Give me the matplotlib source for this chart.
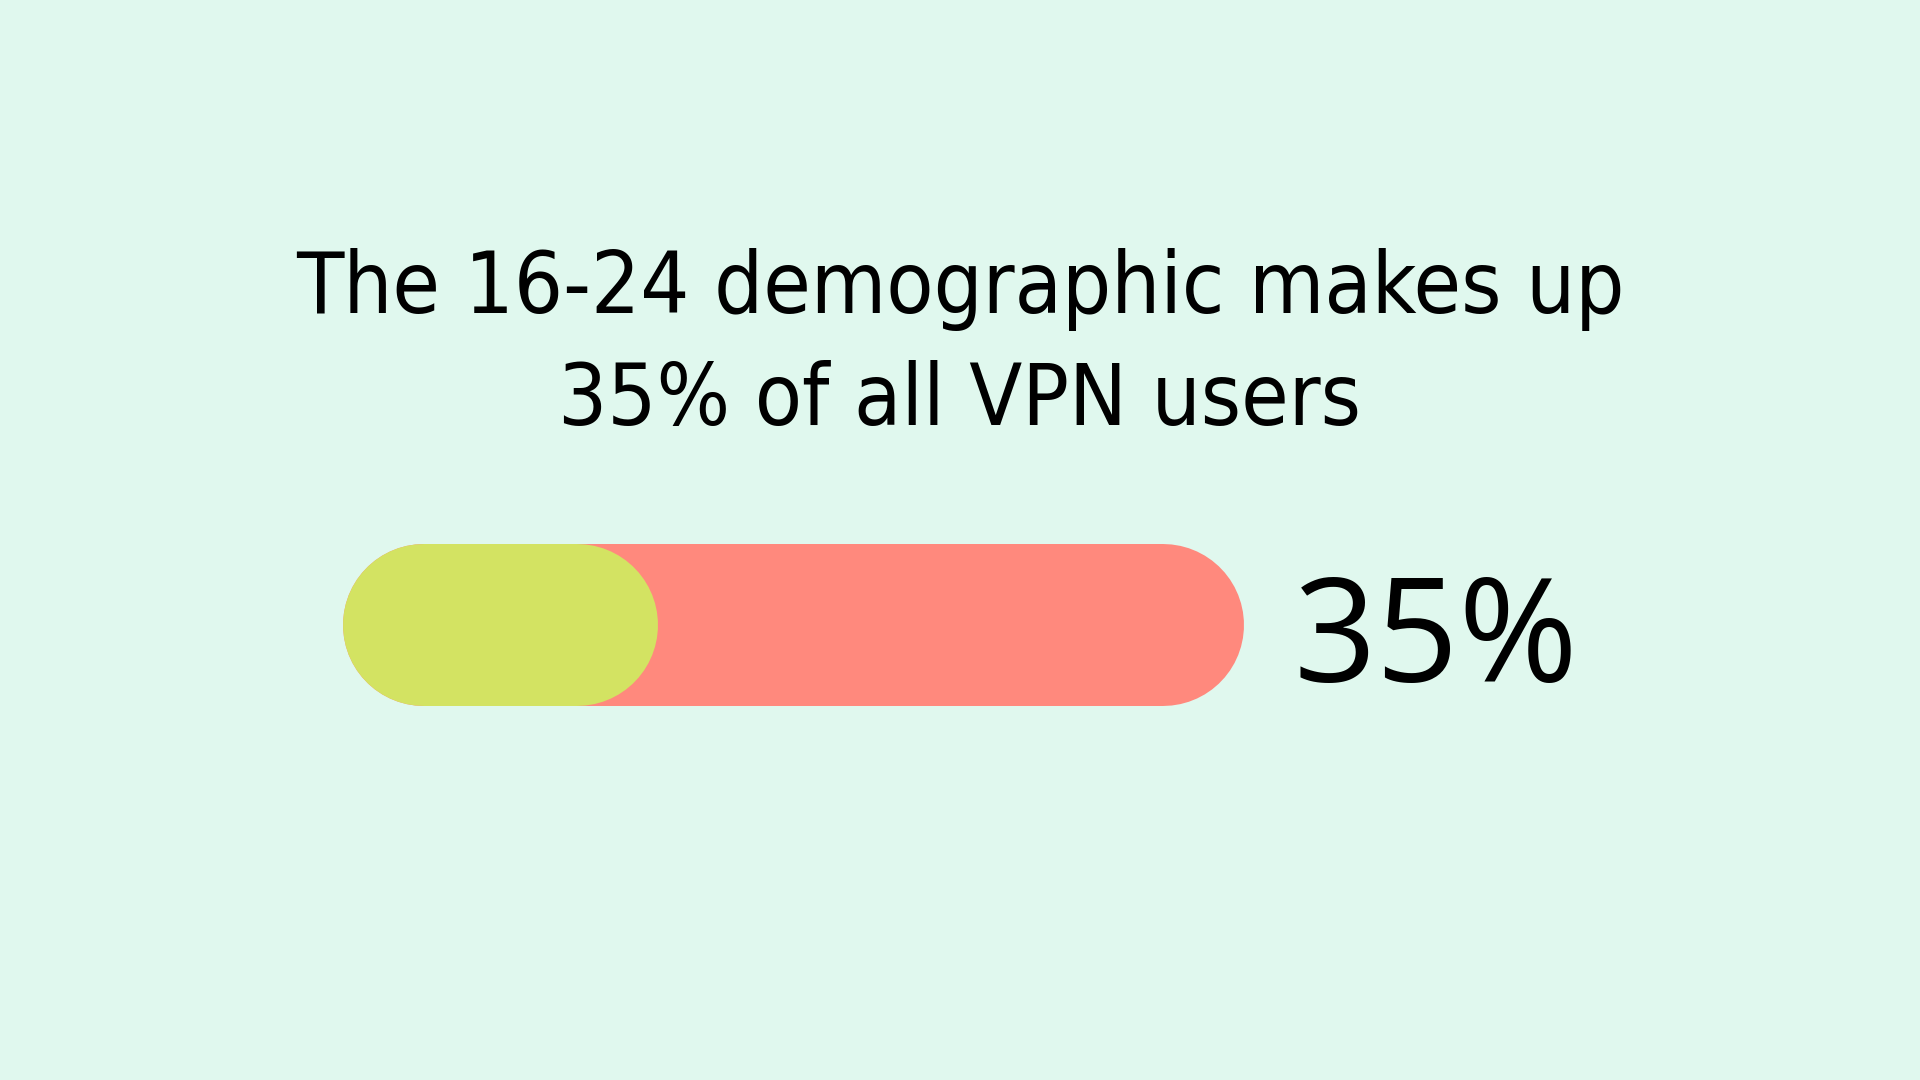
import matplotlib.pyplot as plt
from matplotlib import font_manager
from matplotlib.font_manager import FontProperties

# data
share = 35          # % of all VPN users aged 16-24
total = 100
title_lines = ["The 16-24 demographic makes up", "35% of all VPN users"]
label = f"{share}%"

bg = "#e0f8ee"
fill_col = "#d3e362"
rest_col = "#ff897d"

# look for a condensed face for the headline, otherwise a narrow-ish sans
cond = [f for f in font_manager.fontManager.ttflist
        if "condensed" in str(f.stretch).lower() or "Condensed" in f.fname or "Narrow" in f.name]
cond = [f for f in cond if f.weight in (400, "normal", "regular") and f.style == "normal"] or cond
if cond:
    title_fp = FontProperties(fname=cond[0].fname, size=62)
else:
    title_fp = FontProperties(family="Roboto", size=56)

W, H, dpi = 1920, 1080, 100
fig = plt.figure(figsize=(W / dpi, H / dpi), dpi=dpi, facecolor=bg)

# bar area in pixels
bx0, bx1, by0, by1 = 343, 1244, 544, 706
bh = by1 - by0
ax = fig.add_axes([bx0 / W, 1 - by1 / H, (bx1 - bx0) / W, bh / H])
ax.set_xlim(0, total)
ax.set_ylim(0, 1)
ax.axis("off")

lw = bh * 72 / dpi
r = (bh / 2) / (bx1 - bx0) * total  # cap radius in data units
ax.plot([r, total - r], [0.5, 0.5], color=rest_col, lw=lw, solid_capstyle="round")
ax.plot([r, share - r], [0.5, 0.5], color=fill_col, lw=lw, solid_capstyle="round")

fig.text(960 / W, 1 - 313 / H, title_lines[0], ha="center", va="baseline",
         fontproperties=title_fp, color="black")
fig.text(960 / W, 1 - 425 / H, title_lines[1], ha="center", va="baseline",
         fontproperties=title_fp, color="black")

fig.text(1294 / W, 1 - 682 / H, label, ha="left", va="baseline",
         fontsize=104, family="Open Sans", color="black")

fig.savefig("out.png", dpi=dpi, facecolor=bg)
